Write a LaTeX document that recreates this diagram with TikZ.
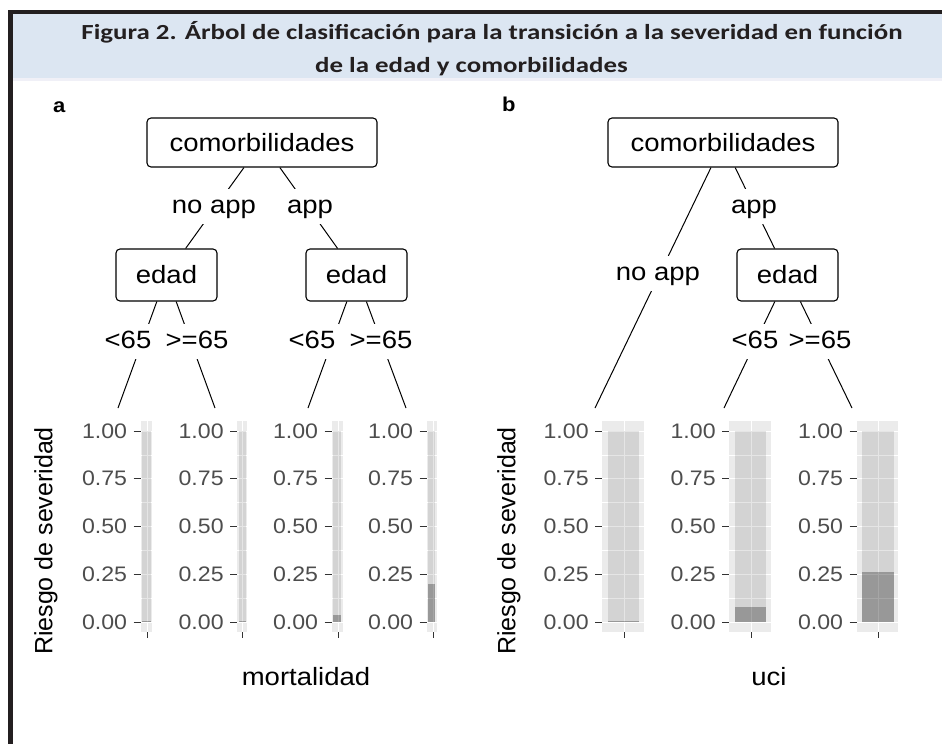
\documentclass[tikz,border=0pt]{standalone}
\usepackage{fontspec}
\setmainfont{Liberation Sans}
\newfontfamily\plotfont[FakeStretch=1.1]{Liberation Sans}
\newfontfamily\titlefont[FakeStretch=1.25]{Carlito}
\definecolor{band}{HTML}{DCE6F2}
\definecolor{bandedge}{HTML}{F0F0F7}
\definecolor{framec}{HTML}{231F20}
\definecolor{panelbg}{HTML}{EBEBEB}
\definecolor{tickgrey}{HTML}{4D4D4D}
\definecolor{tickline}{HTML}{333333}
\tikzset{
  tbox/.style={draw, line width=1.1pt, rounded corners=4pt, fill=white, inner sep=0pt,
    font=\plotfont\fontsize{25}{30}\selectfont},
  edgeline/.style={line width=1pt, black},
  elab/.style={fill=white, anchor=base, text height=18pt, text depth=5pt,
    inner xsep=4pt, inner ysep=6pt, font=\plotfont\fontsize{25}{30}\selectfont},
  ticklab/.style={anchor=east, inner sep=0pt, text=tickgrey,
    font=\plotfont\fontsize{21}{25}\selectfont},
  axtitle/.style={inner sep=0pt, font=\plotfont\fontsize{25}{30}\selectfont},
  yaxtitle/.style={inner sep=0pt, rotate=90, font=\fontsize{25}{30}\selectfont},
  paneltag/.style={anchor=base west, inner sep=0pt, font=\plotfont\bfseries\fontsize{20}{23}\selectfont},
  titletext/.style={inner sep=0pt, text=framec, font=\titlefont\bfseries\fontsize{21.5}{26}\selectfont}
}
% #1 panel left, #2 panel right, #3 bar left, #4 bar right, #5 value, #6 centre x, #7 name prefix
\newcommand{\barplot}[7]{%
  \fill[panelbg] (#1,420.5) rectangle (#2,631.5);
  \foreach \v in {0.125,0.375,0.625,0.875} {\draw[white, line width=0.5pt] (#1,{622-\v*191}) -- (#2,{622-\v*191});}
  \foreach \v in {0,0.25,0.5,0.75,1} {\draw[white, line width=1pt] (#1,{622-\v*191}) -- (#2,{622-\v*191});}
  \draw[white, line width=1pt] (#6,420.5) -- (#6,631.5);
  \fill[black, fill opacity=0.1] (#3,431) rectangle (#4,{622-#5*191});
  \fill[black, fill opacity=0.35] (#3,{622-#5*191}) rectangle (#4,622);
  \foreach \i/\v/\l in {0/0/0.00,1/0.25/0.25,2/0.5/0.50,3/0.75/0.75,4/1/1.00} {
    \draw[tickline, line width=1pt] ({#1-7},{622-\v*191}) -- (#1,{622-\v*191});
    \node[ticklab] (#7t\i) at ({#1-13.5},{622-\v*191}) {\l};
  }
  \draw[tickline, line width=1pt] (#6,632) -- (#6,637.5);
}
\begin{document}
\begin{tikzpicture}[x=1pt,y=-1pt]
\useasboundingbox (0,0) rectangle (942,744);
\fill[white] (0,0) rectangle (942,744);
% frame and title band
\fill[band] (13,14) rectangle (942,78);
\fill[bandedge] (13,78) rectangle (942,80.5);
\fill[framec] (8,10) rectangle (942,14);
\fill[framec] (8,10) rectangle (13,744);
\node[titletext, anchor=base] (title1) at (492,39.3) {Figura 2. Árbol de clasificación para la transición a la severidad en función};
\node[titletext, anchor=base west] (title2) at (315,72) {de la edad y comorbilidades};

% panel tags
\node[paneltag] (taga) at (53,112) {a};
\node[paneltag] (tagb) at (502,111) {b};

% ---------- panel a tree ----------
\node[tbox, minimum width=230pt, minimum height=49pt] (rA) at (262,142.5) {comorbilidades};
\node[tbox, minimum width=101pt, minimum height=52pt] (eAL) at (166.5,275) {edad};
\node[tbox, minimum width=101pt, minimum height=52pt] (eAR) at (356.5,275) {edad};
\coordinate (lA1) at (118,408);
\coordinate (lA2) at (215,408);
\coordinate (lA3) at (308,408);
\coordinate (lA4) at (406,408);
\draw[edgeline] (rA) -- (eAL);
\draw[edgeline] (rA) -- (eAR);
\draw[edgeline] (eAL) -- (lA1);
\draw[edgeline] (eAL) -- (lA2);
\draw[edgeline] (eAR) -- (lA3);
\draw[edgeline] (eAR) -- (lA4);
\node[elab] (nA) at (214,213) {no app};
\node[elab] (pA) at (310,213) {app};
\node[elab] (kA1) at (128,348) {<65};
\node[elab] (kA2) at (197,348) {>=65};
\node[elab] (kA3) at (312,348) {<65};
\node[elab] (kA4) at (381,348) {>=65};

% ---------- panel b tree ----------
\node[tbox, minimum width=230pt, minimum height=49pt] (rB) at (723,142.5) {comorbilidades};
\node[tbox, minimum width=101pt, minimum height=52pt] (eB) at (787.5,275) {edad};
\coordinate (lB1) at (595,408);
\coordinate (lB2) at (724,408);
\coordinate (lB3) at (852,408);
\draw[edgeline] (rB) -- (lB1);
\draw[edgeline] (rB) -- (eB);
\draw[edgeline] (eB) -- (lB2);
\draw[edgeline] (eB) -- (lB3);
\node[elab] (nB) at (658,280) {no app};
\node[elab] (pB) at (754,213) {app};
\node[elab] (kB1) at (755,348) {<65};
\node[elab] (kB2) at (820,348) {>=65};

% ---------- bar plots ----------
\barplot{140.7}{152.3}{142.2}{150.8}{0.004}{147}{pa1}
\barplot{237.3}{247.3}{238.7}{245.9}{0.004}{242}{pa2}
\barplot{331.7}{342.7}{333.1}{341.3}{0.036}{338}{pa3}
\barplot{426.7}{436.7}{428.1}{435.3}{0.20}{433}{pa4}
\barplot{602.3}{644}{607.7}{639}{0.005}{624}{pb1}
\barplot{729.3}{771}{735}{765.7}{0.08}{751}{pb2}
\barplot{856.7}{898.3}{861.7}{894.3}{0.26}{878}{pb3}

% axis titles
\node[yaxtitle] (ya) at (46,541) {Riesgo de severidad};
\node[yaxtitle] (yb) at (509,541) {Riesgo de severidad};
\node[axtitle, anchor=base] (xa) at (306,685) {mortalidad};
\node[axtitle, anchor=base] (xb) at (769,685) {uci};
\end{tikzpicture}
\end{document}
